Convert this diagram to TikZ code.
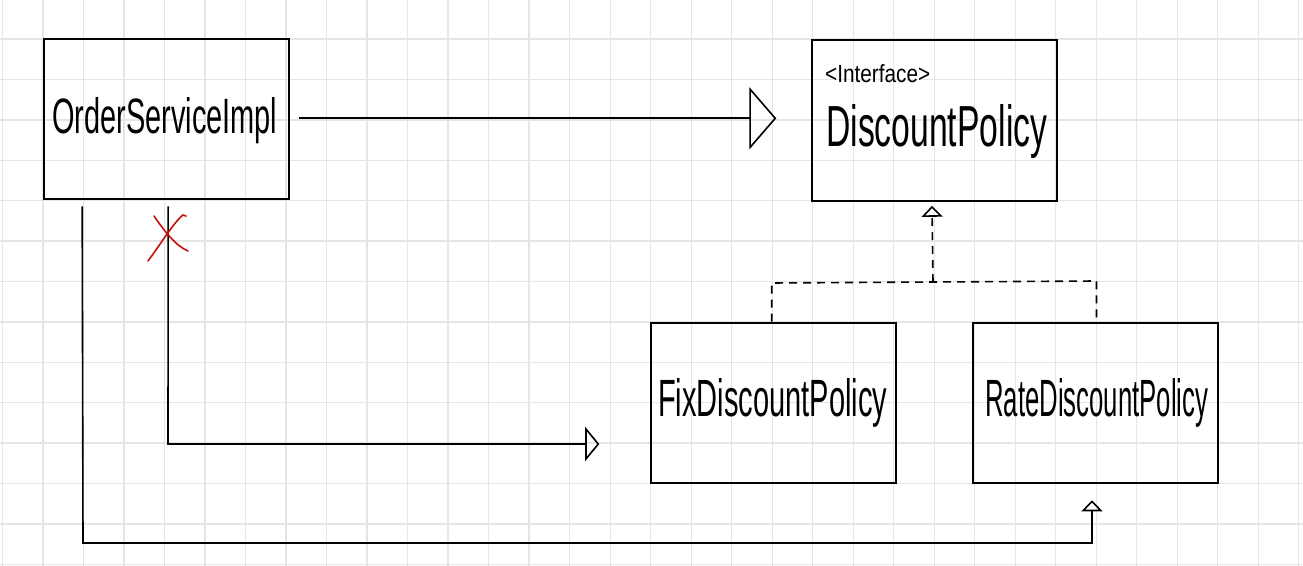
\documentclass[tikz,border=0pt]{standalone}
\usepackage{fontspec}
\usepackage{graphicx}
\setmainfont{Liberation Sans}
\usetikzlibrary{arrows.meta,calc}
\newlength\pxu
\setlength\pxu{0.03cm}
\definecolor{gridgray}{RGB}{229,229,229}
\definecolor{xred}{RGB}{200,16,16}
\begin{document}
\begin{tikzpicture}[x=0.03cm,y=-0.03cm,
  classbox/.style={draw=black, line width=2\pxu, minimum width=245\pxu, minimum height=160.6\pxu, inner sep=0pt},
  txt/.style={inner sep=0pt, anchor=base west},
  conn/.style={draw=black, line width=1.6\pxu},
  dashconn/.style={conn, dash pattern=on 8\pxu off 6\pxu},
  gridline/.style={draw=gridgray, line width=1.3\pxu},
  bigtip/.style={-{Triangle[open,length=23pt,width=53pt,line width=1.37pt]}},
  midtip/.style={-{Triangle[open,length=12pt,width=29pt,line width=1.37pt]}},
  smalltip/.style={-{Triangle[open,length=9.4pt,width=18pt,line width=1.37pt]}},
  redx/.style={draw=xred, line width=1.6\pxu, line cap=round}
]
\fill[white] (0,0) rectangle (1303,566);
\useasboundingbox (0,0) rectangle (1303,566);
% grid
\foreach \k in {0,...,32} \draw[gridline] ({2.5+40.51*\k},0) -- ({2.5+40.51*\k},566);
\foreach \k in {1,...,14} \draw[gridline] (0,{-1.3+40.4*\k}) -- (1303,{-1.3+40.4*\k});
% boxes
\node[classbox] (order) at (166.2,119) {};
\node[classbox] (disc) at (934.8,120.5) {};
\node[classbox] (fix) at (773.8,403) {};
\node[classbox] (rate) at (1095.8,403) {};
% texts
\node[txt] (torder) at (52,134) {\resizebox{225\pxu}{36\pxu}{OrderServiceImpl}};
\node[txt] (tiface) at (825,83) {\resizebox{105\pxu}{18\pxu}{<Interface>}};
\node[txt] (tdisc) at (826,147) {\resizebox{221\pxu}{42\pxu}{DiscountPolicy}};
\node[txt] (tfix) at (658,416) {\resizebox{229\pxu}{38\pxu}{FixDiscountPolicy}};
\node[txt] (trate) at (985,416) {\resizebox{223\pxu}{38\pxu}{RateDiscountPolicy}};
% order -> discount policy
\draw[conn,bigtip] ([shift={(9\pxu,0.7\pxu)}]order.east) -- ([shift={(-35\pxu,2.2\pxu)}]disc.west);
% order -> fix (crossed out)
\coordinate (fbend) at (168,444);
\draw[conn,midtip] ([shift={(2\pxu,-6\pxu)}]order.south) -- (fbend) -- ([shift={(-51\pxu,-41\pxu)}]fix.west);
% order -> rate
\coordinate (rb1) at (83,543);
\coordinate (rb2) at (1092,543);
\draw[conn,smalltip] ([shift={(39.5\pxu,-6\pxu)}]order.south west) -- (rb1) -- (rb2) -- ([shift={(-3.8\pxu,-16\pxu)}]rate.south);
% realization (dashed)
\coordinate (dl) at (771.7,283);
\coordinate (dm) at (933,282);
\coordinate (dr) at (1096.5,281);
\draw[dashconn] ([xshift=-2.1\pxu]fix.north) -- (dl) -- (dm) -- (dr) -- ([xshift=0.7\pxu]rate.north);
\draw[dashconn,smalltip] (dm) -- ([shift={(-2.8\pxu,-4\pxu)}]disc.south);
% red cross
\draw[redx] (148,261) .. controls (160,245) and (174,222) .. (183,215) -- (186,216);
\draw[redx] (154,216) .. controls (165,232) and (176,246) .. (188,251);
\end{tikzpicture}
\end{document}
